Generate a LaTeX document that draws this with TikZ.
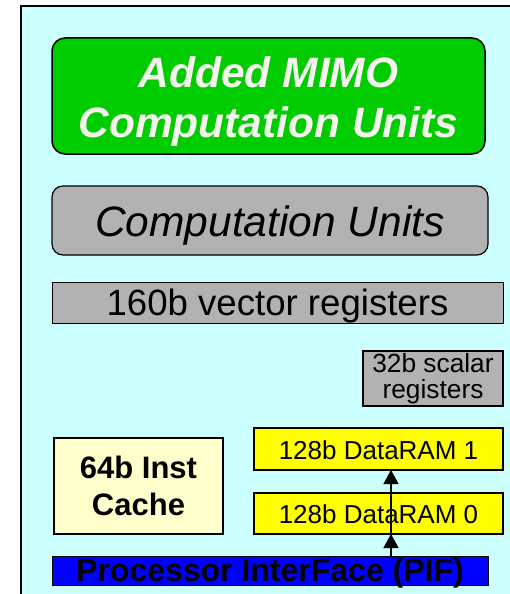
\documentclass[tikz,border=0pt]{standalone}
\usepackage{fontspec}
\setmainfont{Liberation Sans}
\usetikzlibrary{arrows.meta}
\definecolor{panelbg}{HTML}{CCFFFF}
\definecolor{mimogreen}{HTML}{00CC00}
\definecolor{unitgray}{HTML}{B2B2B2}
\definecolor{ramyellow}{HTML}{FFFF00}
\definecolor{cachecream}{HTML}{FFFFCC}
\definecolor{pifblue}{HTML}{0000FF}
\definecolor{offwhite}{HTML}{F5F3EE}
% two centred lines whose baseline is the last line
\newcommand{\twolines}[2]{\begin{tabular}[b]{@{}c@{}}#1\\#2\end{tabular}}
\begin{document}
\begin{tikzpicture}[x=1pt,y=-1pt,
  blk/.style={draw=black, rectangle, inner sep=0pt, outer sep=0pt, anchor=north west},
  busarrow/.style={line width=1.5pt, -{Triangle[width=15pt,length=14pt]}}]
\useasboundingbox (0,0) rectangle (510,594);
\fill[white] (0,0) rectangle (510,594);
% processor panel
\fill[panelbg] (21,6) rectangle (510,594);
\draw[line width=2pt] (21,594) -- (21,6) -- (510,6);

\node[blk, fill=mimogreen, line width=1.5pt, rounded corners=13pt,
      minimum width=433pt, text height=99pt, text depth=17pt, text=offwhite,
      font=\fontsize{42.5}{49.5}\selectfont\bfseries\itshape]
      (mimo) at (52,38) {\twolines{Added MIMO}{Computation Units}};

\node[blk, fill=unitgray, line width=1.2pt, rounded corners=11pt,
      minimum width=436pt, text height=50.7pt, text depth=18.3pt,
      font=\fontsize{42.5}{50}\selectfont\itshape]
      (cu) at (52,186) {Computation Units};

\node[blk, fill=unitgray, line width=1pt,
      minimum width=451pt, text height=33pt, text depth=8pt,
      font=\fontsize{36.6}{44}\selectfont]
      (vreg) at (52,282) {160b vector registers};

\node[blk, fill=unitgray, line width=1.5pt,
      minimum width=140pt, text height=47pt, text depth=8pt,
      font=\fontsize{26.3}{22}\selectfont]
      (sreg) at (363,351) {\twolines{32b scalar}{registers}};

\node[blk, fill=ramyellow, line width=1.8pt,
      minimum width=249pt, text height=31pt, text depth=11pt,
      font=\fontsize{26}{31}\selectfont]
      (dram1) at (254,428) {128b DataRAM 1};

\node[blk, fill=ramyellow, line width=1.8pt,
      minimum width=249pt, text height=30pt, text depth=11pt,
      font=\fontsize{26}{31}\selectfont]
      (dram0) at (254,493) {128b DataRAM 0};

\node[blk, fill=cachecream, line width=1.8pt,
      minimum width=169pt, text height=77pt, text depth=19pt,
      font=\fontsize{31}{37}\selectfont\bfseries]
      (icache) at (54,438) {\twolines{64b Inst}{Cache}};

\node[blk, fill=pifblue, line width=1pt,
      minimum width=436pt, text height=25pt, text depth=4pt,
      font=\fontsize{32}{38}\selectfont\bfseries]
      (pif) at (52,556) {Processor InterFace (PIF)};

% bus from the PIF up to both data RAMs
\coordinate (bus) at (391,0);
\draw[busarrow] (bus |- pif.north) -- (bus |- dram0.south);
\draw[busarrow] (bus |- pif.north) -- (bus |- dram1.south);
\end{tikzpicture}
\end{document}
